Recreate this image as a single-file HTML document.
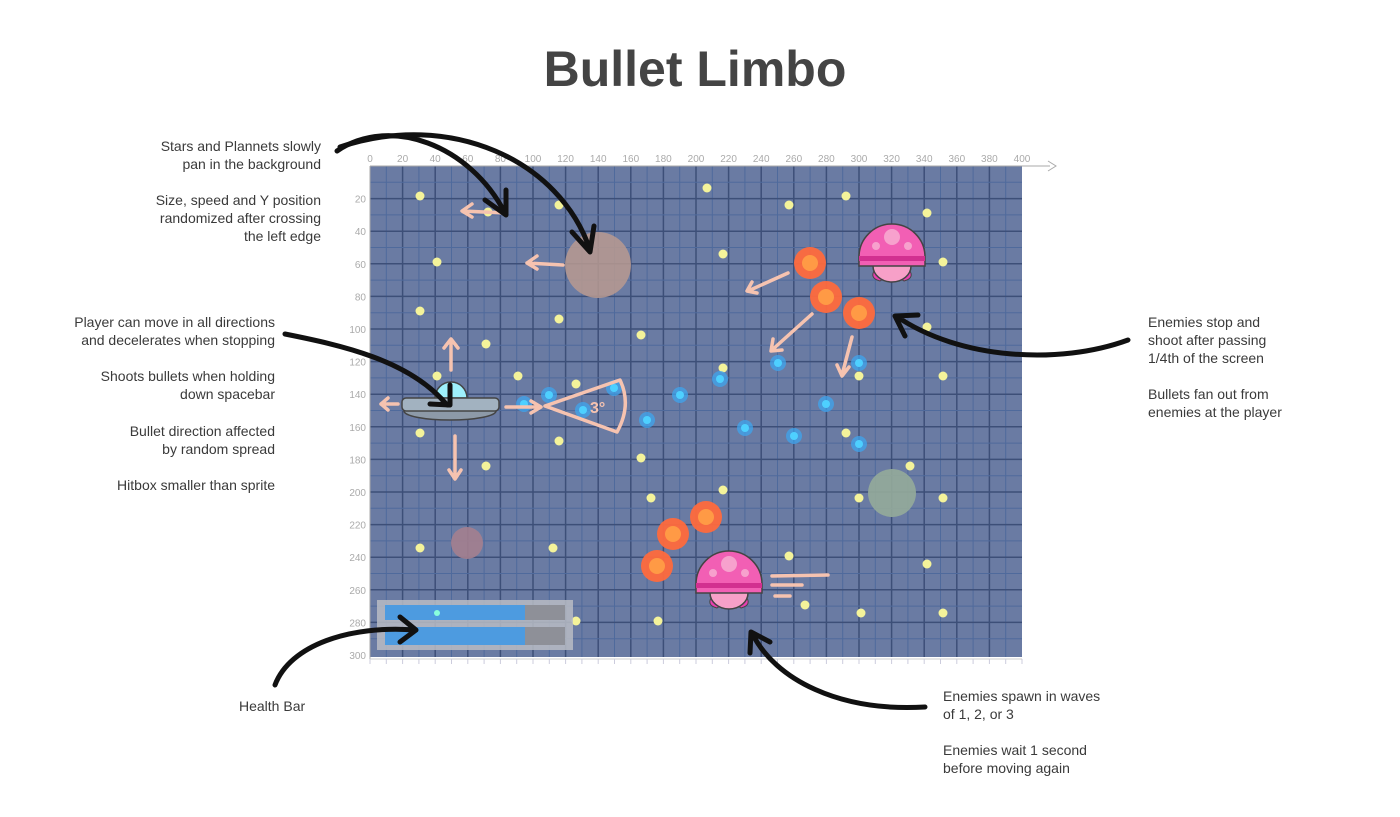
<!DOCTYPE html>
<html><head><meta charset="utf-8"><style>
body{margin:0;background:#fff;width:1400px;height:817px;overflow:hidden;font-family:"Liberation Sans",sans-serif}
svg{position:absolute;left:0;top:0}
.t{font-family:"Liberation Sans",sans-serif;font-size:14px;fill:#3a3a3a}
.ax{font-family:"Liberation Sans",sans-serif;font-size:10px;fill:#aaa}
</style></head><body>
<svg width="1400" height="817" viewBox="0 0 1400 817">
<text x="695" y="86" text-anchor="middle" font-family="Liberation Sans" font-weight="bold" font-size="50" fill="#444">Bullet Limbo</text>
<rect x="370" y="166" width="652" height="491" fill="#6a7ba3"/>
<g id="grid"></g>
<line x1="370" y1="166" x2="1050" y2="166" stroke="#aaa" stroke-width="1"/>
<path d="M1048,161 L1056,166 L1048,171" fill="none" stroke="#aaa"/>
<line x1="370" y1="166" x2="370" y2="660" stroke="#aaa"/>
<line x1="370" y1="659" x2="1022" y2="659" stroke="#ccc"/>
<g id="ax"></g>
<circle cx="598" cy="265" r="33" fill="#b89a90" opacity="0.85"/>
<circle cx="892" cy="493" r="24" fill="#95ab9a" opacity="0.9"/>
<circle cx="467" cy="543" r="16" fill="#a4808f" opacity="0.9"/>
<g id="stars" fill="#f4f39a"></g>
<g id="blue"></g>
<g id="orange"></g>
<rect x="377" y="600" width="196" height="50" fill="#b9bcc4" opacity="0.85"/>
<rect x="385" y="605" width="180" height="15" fill="#8e9098"/>
<rect x="385" y="627" width="180" height="18" fill="#8e9098"/>
<rect x="385" y="605" width="140" height="15" fill="#4d9be0"/>
<rect x="385" y="627" width="140" height="18" fill="#4d9be0"/>
<circle cx="437" cy="613" r="3" fill="#8fd"/>
<path d="M435,398 A16,16 0 0 1 467,398 Z" fill="#9ef0fb" stroke="#444" stroke-width="1.5"/>
<ellipse cx="450" cy="411" rx="46" ry="9" fill="#8d9aa8" stroke="#444" stroke-width="1.5"/>
<rect x="402" y="398" width="97" height="13" rx="4" fill="#a2b2c0" stroke="#444" stroke-width="1.5"/>
<g id="en1">
<path d="M876,268 q-8,10 4,13 l6,-4z M908,268 q8,10 -4,13 l-6,-4z" fill="#e93fb1" stroke="#444"/>
<ellipse cx="892" cy="266" rx="19" ry="16" fill="#f7a0c8" stroke="#444" stroke-width="1.5"/>
<path d="M859,266 L859,257 A33,33 0 0 1 925,257 L925,266 Z" fill="#f25fb4" stroke="#444" stroke-width="1.5"/>
<rect x="859" y="256" width="66" height="5" fill="#d23090"/>
<circle cx="892" cy="237" r="8" fill="#f8b1d3" opacity="0.8"/>
<circle cx="876" cy="246" r="4" fill="#f8b1d3" opacity="0.8"/><circle cx="908" cy="246" r="4" fill="#f8b1d3" opacity="0.8"/>
</g>
<use href="#en1" transform="translate(-163,327)"/>
<g stroke="#f6c3b0" stroke-width="3.5" fill="none" stroke-linecap="round" stroke-linejoin="round">
<path d="M505,213 L463,211 M472,204 L462,211 L472,217"/>
<path d="M563,265 L527,263 M537,256 L527,263 L537,269"/>
<path d="M451,370 L451,340 M444,348 L451,339 L458,348"/>
<path d="M398,404 L381,404 M388,398 L381,404 L388,410"/>
<path d="M455,436 L455,478 M449,470 L455,479 L461,470"/>
<path d="M506,407 L540,407 M531,401 L541,407 L531,413"/>
<path d="M545,406 L620,380 Q632,405 617,432 Z"/>
<path d="M788,273 L748,291 M752,282 L747,291 L757,293"/>
<path d="M812,314 L772,350 M773,339 L771,351 L782,350"/>
<path d="M852,337 L842,375 M837,365 L842,376 L849,367"/>
<path d="M772,576 L828,575 M772,585 L802,585 M775,596 L790,596"/>
</g>
<text x="590" y="413" font-family="Liberation Sans" font-size="16" fill="#f6c3b0" font-weight="bold">3°</text>
<g stroke="#111" stroke-width="5" fill="none" stroke-linecap="round" stroke-linejoin="round">
<path d="M337,151 C390,115 470,145 505,213 M485,200 L506,215 L506,190"/>
<path d="M340,147 C450,110 560,160 590,250 M572,232 L590,252 L594,226"/>
<path d="M285,334 C340,345 410,360 447,405 M430,404 L450,405 L450,385"/>
<path d="M1128,340 C1060,365 960,360 896,316 M918,315 L895,316 L905,336"/>
<path d="M275,685 C290,645 350,625 415,630 M400,617 L416,630 L400,642"/>
<path d="M925,707 C840,712 775,680 752,633 M750,653 L751,632 L770,642"/>
</g>
<g class="t" text-anchor="end">
<text x="321" y="151">Stars and Plannets slowly</text>
<text x="321" y="169">pan in the background</text>
<text x="321" y="205">Size, speed and Y position</text>
<text x="321" y="223">randomized after crossing</text>
<text x="321" y="241">the left edge</text>
<text x="275" y="327">Player can move in all directions</text>
<text x="275" y="345">and decelerates when stopping</text>
<text x="275" y="381">Shoots bullets when holding</text>
<text x="275" y="399">down spacebar</text>
<text x="275" y="436">Bullet direction affected</text>
<text x="275" y="454">by random spread</text>
<text x="275" y="490">Hitbox smaller than sprite</text>
</g>
<g class="t">
<text x="239" y="711">Health Bar</text>
<text x="1148" y="327">Enemies stop and</text>
<text x="1148" y="345">shoot after passing</text>
<text x="1148" y="363">1/4th of the screen</text>
<text x="1148" y="399">Bullets fan out from</text>
<text x="1148" y="417">enemies at the player</text>
<text x="943" y="701">Enemies spawn in waves</text>
<text x="943" y="719">of 1, 2, or 3</text>
<text x="943" y="755">Enemies wait 1 second</text>
<text x="943" y="773">before moving again</text>
</g>
</svg>
<script>
const ns="http://www.w3.org/2000/svg";
function el(p,t,a){const e=document.createElementNS(ns,t);for(const k in a)e.setAttribute(k,a[k]);p.appendChild(e);return e;}
const g=document.getElementById('grid'),s=1.63;
for(let u=10;u<400;u+=10){const x=370+u*s;el(g,'line',{x1:x,y1:166,x2:x,y2:657,stroke:u%20?'#4f6a9c':'#3d4f78','stroke-width':u%20?1:1.5});}
for(let v=10;v<300;v+=10){const y=166+v*s;el(g,'line',{x1:370,y1:y,x2:1022,y2:y,stroke:v%20?'#4f6a9c':'#3d4f78','stroke-width':v%20?1:1.5});}
const ax=document.getElementById('ax');
for(let u=0;u<=400;u+=20){const x=370+u*s;const t=el(ax,'text',{x:x,y:162,'text-anchor':'middle',class:'ax'});t.textContent=u;}
for(let v=20;v<=300;v+=20){const y=166+v*s;const t=el(ax,'text',{x:366,y:y+4,'text-anchor':'end',class:'ax'});t.textContent=v;}
for(let u=0;u<=400;u+=10){const x=370+u*s;el(ax,'line',{x1:x,y1:659,x2:x,y2:664,stroke:'#ccd'});}
const st=[[420,196],[707,188],[559,205],[789,205],[846,196],[927,213],[437,262],[723,254],[943,262],[420,311],[559,319],[641,335],[486,344],[927,327],[723,368],[437,376],[518,376],[576,384],[859,376],[943,376],[420,433],[559,441],[846,433],[641,458],[486,466],[910,466],[651,498],[723,490],[859,498],[943,498],[420,548],[553,548],[789,556],[927,564],[576,621],[658,621],[805,605],[861,613],[943,613],[488,212]];
const sg=document.getElementById('stars');st.forEach(p=>el(sg,'circle',{cx:p[0],cy:p[1],r:4.5}));
const bl=[[549,395],[524,404],[583,410],[647,420],[680,395],[720,379],[778,363],[859,363],[826,404],[745,428],[794,436],[859,444],[614,388]];
const bg=document.getElementById('blue');bl.forEach(p=>{el(bg,'circle',{cx:p[0],cy:p[1],r:8,fill:'#3fa4ee',opacity:.75});el(bg,'circle',{cx:p[0],cy:p[1],r:4,fill:'#4ed0ff'});});
const or=[[810,263],[826,297],[859,313],[706,517],[673,534],[657,566]];
const og=document.getElementById('orange');or.forEach(p=>{el(og,'circle',{cx:p[0],cy:p[1],r:16,fill:'#ff6a3d',opacity:.95});el(og,'circle',{cx:p[0],cy:p[1],r:8,fill:'#ff9a45'});});
</script>
</body></html>
